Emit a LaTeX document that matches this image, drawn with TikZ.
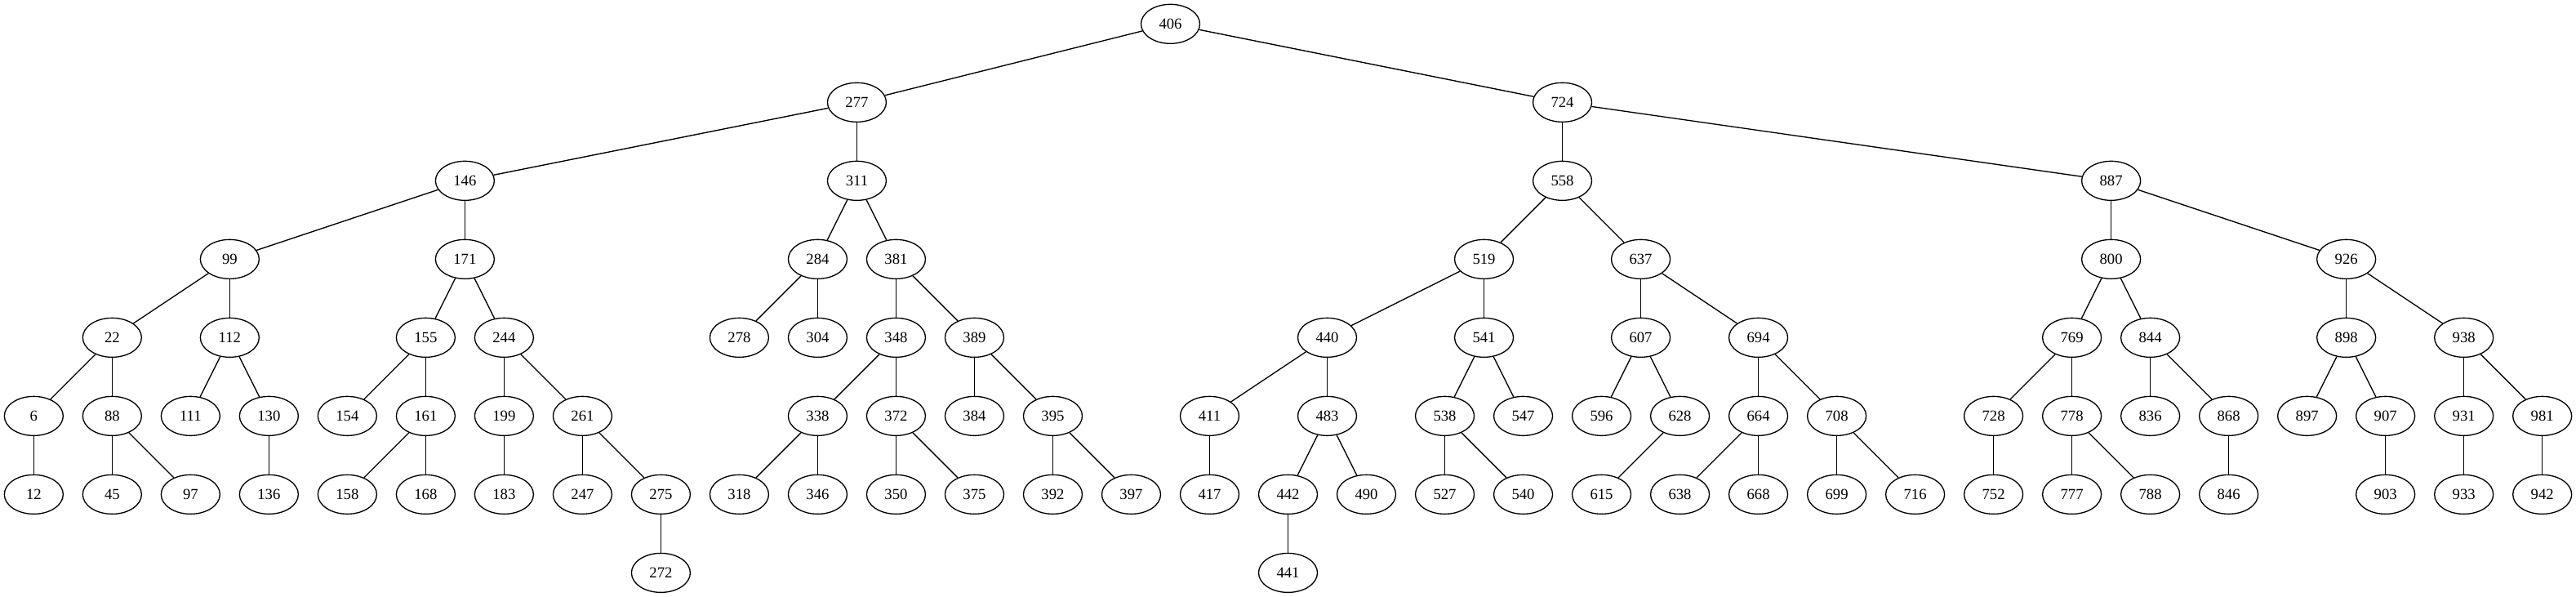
\documentclass[tikz,border=0pt]{standalone}
\usepackage{fontspec}
\setmainfont{Liberation Serif}
\usetikzlibrary{shapes.geometric}
\newcommand\gvnode[3]{\node[nd] (n#1) at ({31+72*#2},{526-72*#3}) {#1};}
\begin{document}
\begin{tikzpicture}[x=1pt,y=1pt,
  nd/.style={ellipse,draw=black,line width=1pt,minimum width=54pt,minimum height=36pt,inner sep=0pt,font=\fontsize{14}{16}\selectfont},
  ed/.style={draw=black,line width=1pt}]
\useasboundingbox (0,0) rectangle (2366,548);
% rank 0
\gvnode{406}{14.5}{0}
% rank 1
\gvnode{277}{10.5}{1}
\gvnode{724}{19.5}{1}
% rank 2
\gvnode{146}{5.5}{2}
\gvnode{311}{10.5}{2}
\gvnode{558}{19.5}{2}
\gvnode{887}{26.5}{2}
% rank 3
\gvnode{99}{2.5}{3}
\gvnode{171}{5.5}{3}
\gvnode{284}{10}{3}
\gvnode{381}{11}{3}
\gvnode{519}{18.5}{3}
\gvnode{637}{20.5}{3}
\gvnode{800}{26.5}{3}
\gvnode{926}{29.5}{3}
% rank 4
\gvnode{22}{1}{4}
\gvnode{112}{2.5}{4}
\gvnode{155}{5}{4}
\gvnode{244}{6}{4}
\gvnode{278}{9}{4}
\gvnode{304}{10}{4}
\gvnode{348}{11}{4}
\gvnode{389}{12}{4}
\gvnode{440}{16.5}{4}
\gvnode{541}{18.5}{4}
\gvnode{607}{20.5}{4}
\gvnode{694}{22}{4}
\gvnode{769}{26}{4}
\gvnode{844}{27}{4}
\gvnode{898}{29.5}{4}
\gvnode{938}{31}{4}
% rank 5
\gvnode{6}{0}{5}
\gvnode{88}{1}{5}
\gvnode{111}{2}{5}
\gvnode{130}{3}{5}
\gvnode{154}{4}{5}
\gvnode{161}{5}{5}
\gvnode{199}{6}{5}
\gvnode{261}{7}{5}
\gvnode{338}{10}{5}
\gvnode{372}{11}{5}
\gvnode{384}{12}{5}
\gvnode{395}{13}{5}
\gvnode{411}{15}{5}
\gvnode{483}{16.5}{5}
\gvnode{538}{18}{5}
\gvnode{547}{19}{5}
\gvnode{596}{20}{5}
\gvnode{628}{21}{5}
\gvnode{664}{22}{5}
\gvnode{708}{23}{5}
\gvnode{728}{25}{5}
\gvnode{778}{26}{5}
\gvnode{836}{27}{5}
\gvnode{868}{28}{5}
\gvnode{897}{29}{5}
\gvnode{907}{30}{5}
\gvnode{931}{31}{5}
\gvnode{981}{32}{5}
% rank 6
\gvnode{12}{0}{6}
\gvnode{45}{1}{6}
\gvnode{97}{2}{6}
\gvnode{136}{3}{6}
\gvnode{158}{4}{6}
\gvnode{168}{5}{6}
\gvnode{183}{6}{6}
\gvnode{247}{7}{6}
\gvnode{275}{8}{6}
\gvnode{318}{9}{6}
\gvnode{346}{10}{6}
\gvnode{350}{11}{6}
\gvnode{375}{12}{6}
\gvnode{392}{13}{6}
\gvnode{397}{14}{6}
\gvnode{417}{15}{6}
\gvnode{442}{16}{6}
\gvnode{490}{17}{6}
\gvnode{527}{18}{6}
\gvnode{540}{19}{6}
\gvnode{615}{20}{6}
\gvnode{638}{21}{6}
\gvnode{668}{22}{6}
\gvnode{699}{23}{6}
\gvnode{716}{24}{6}
\gvnode{752}{25}{6}
\gvnode{777}{26}{6}
\gvnode{788}{27}{6}
\gvnode{846}{28}{6}
\gvnode{903}{30}{6}
\gvnode{933}{31}{6}
\gvnode{942}{32}{6}
% rank 7
\gvnode{272}{8}{7}
\gvnode{441}{16}{7}
% edges
\foreach \a/\b in {406/277,406/724,277/146,277/311,146/99,146/171,99/22,99/112,
  22/6,22/88,6/12,88/45,88/97,112/111,112/130,130/136,171/155,171/244,
  155/154,155/161,161/158,161/168,244/199,244/261,199/183,261/247,261/275,275/272,
  311/284,311/381,284/278,284/304,381/348,381/389,348/338,348/372,338/318,338/346,
  372/350,372/375,389/384,389/395,395/392,395/397,
  724/558,724/887,558/519,558/637,519/440,519/541,440/411,440/483,411/417,
  483/442,483/490,442/441,541/538,541/547,538/527,538/540,637/607,637/694,
  607/596,607/628,628/615,694/664,694/708,664/638,664/668,708/699,708/716,
  887/800,887/926,800/769,800/844,769/728,769/778,728/752,778/777,778/788,
  844/836,844/868,868/846,926/898,926/938,898/897,898/907,907/903,
  938/931,938/981,931/933,981/942}
  \draw[ed] (n\a) -- (n\b);
\end{tikzpicture}
\end{document}
